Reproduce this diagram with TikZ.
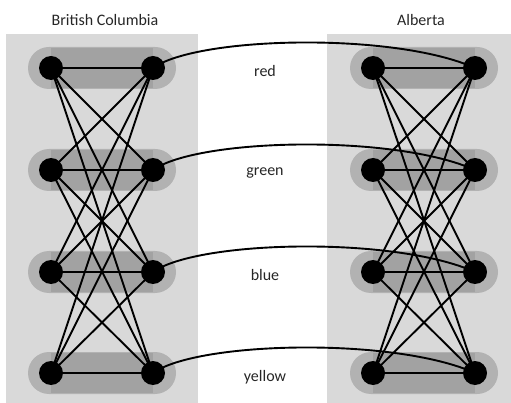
\documentclass[tikz,border=0pt]{standalone}
\usepackage{fontspec}
\setmainfont{Carlito}
\definecolor{panelgray}{HTML}{D9D9D9}
\definecolor{halogray}{HTML}{B2B2B2}
\definecolor{innergray}{HTML}{A2A2A2}
\pgfdeclarelayer{back}
\pgfdeclarelayer{mid}
\pgfsetlayers{back,mid,main}
\begin{document}
\begin{tikzpicture}[x=1pt,y=-1pt,
  vtx/.style={circle,fill=black,inner sep=0pt,minimum size=24pt},
  edge/.style={line width=1.9pt,black},
  link/.style={line width=1.9pt,black},
  lbl/.style={font=\fontsize{16}{18}\selectfont,text=black!85},
  panel/.style={fill=panelgray}]
\useasboundingbox (0,0) rectangle (511,403);
% vertices
\foreach \i/\y in {1/68,2/170,3/272,4/373}{
  \node[vtx] (bl\i) at (51,\y) {};
  \node[vtx] (br\i) at (153,\y) {};
  \node[vtx] (al\i) at (373,\y) {};
  \node[vtx] (ar\i) at (475,\y) {};
}
% titles and colour labels
\node[lbl] (tbc) at (105,20) {British Columbia};
\node[lbl] (tab) at (421,20) {Alberta};
\node[lbl] (cred) at (265,71) {red};
\node[lbl] (cgreen) at (265,173) {green};
\node[lbl] (cblue) at (265,275) {blue};
\node[lbl] (cyellow) at (265,377) {yellow};
\begin{pgfonlayer}{back}
  \fill[panel] (6,34) rectangle (198,403);
  \fill[panel] (327,34) rectangle (511,403);
  \foreach \i in {1,...,4}{
    \fill[halogray,rounded corners=21pt] ([shift={(-23,-21)}]bl\i.center) rectangle ([shift={(23,21)}]br\i.center);
    \fill[innergray] ([yshift=-20pt]bl\i.center) rectangle ([yshift=20pt]br\i.center);
    \fill[halogray,rounded corners=21pt] ([shift={(-23,-21)}]al\i.center) rectangle ([shift={(23,21)}]ar\i.center);
    \fill[innergray] ([yshift=-20pt]al\i.center) rectangle ([yshift=20pt]ar\i.center);
  }
\end{pgfonlayer}
\begin{pgfonlayer}{mid}
  \foreach \i in {1,...,4}{
    \foreach \j in {1,...,4}{
      \draw[edge] (bl\i.center) -- (br\j.center);
      \draw[edge] (al\i.center) -- (ar\j.center);
    }
    \draw[link] (br\i.center) .. controls ([shift={(45,-32)}]br\i.center) and ([shift={(-80,-36)}]ar\i.center) .. (ar\i.center);
  }
\end{pgfonlayer}
\end{tikzpicture}
\end{document}
